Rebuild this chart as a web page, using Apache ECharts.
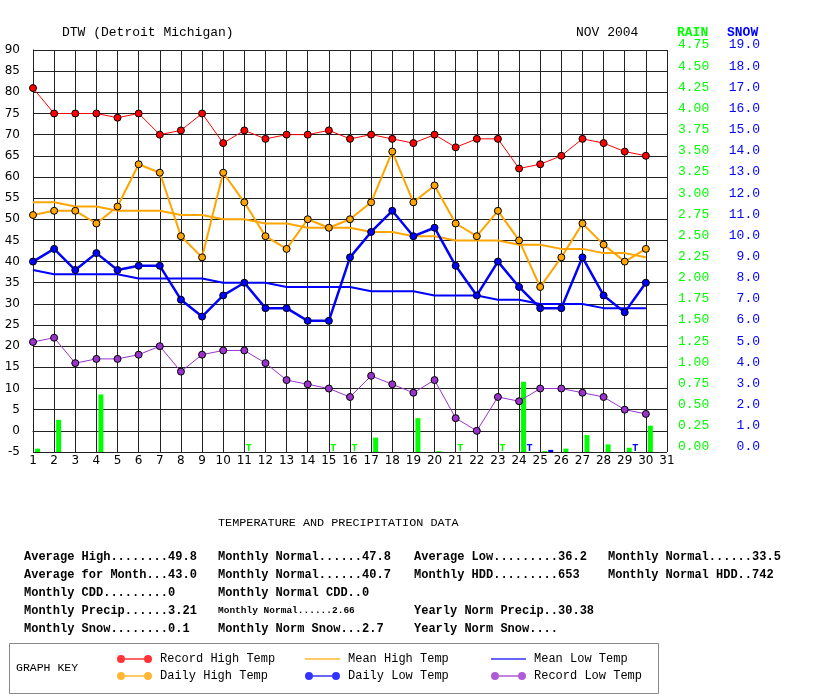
<!DOCTYPE html>
<html>
<head>
<meta charset="utf-8">
<title>DTW Nov 2004</title>
<script src="https://cdn.jsdelivr.net/npm/echarts@6/dist/echarts.min.js"></script>
<style>
  html, body { margin: 0; padding: 0; background: #fff; }
  #chart_container { width: 813px; height: 696px; }
</style>
</head>
<body>
<div id="chart_container"></div>
<script>
"use strict";

// days of the month
const days = [1, 2, 3, 4, 5, 6, 7, 8, 9, 10, 11, 12, 13, 14, 15,
              16, 17, 18, 19, 20, 21, 22, 23, 24, 25, 26, 27, 28, 29, 30];

// temperatures (F)
const recordHigh = [81, 75, 75, 75, 74, 75, 70, 71, 75, 68, 71, 69, 70, 70, 71,
                    69, 70, 69, 68, 70, 67, 69, 69, 62, 63, 65, 69, 68, 66, 65];
const dailyHigh  = [51, 52, 52, 49, 53, 63, 61, 46, 41, 61, 54, 46, 43, 50, 48,
                    50, 54, 66, 54, 58, 49, 46, 52, 45, 34, 41, 49, 44, 40, 43];
const meanHigh   = [54, 54, 53, 53, 52, 52, 52, 51, 51, 50, 50, 49, 49, 48, 48,
                    48, 47, 47, 46, 46, 45, 45, 45, 44, 44, 43, 43, 42, 42, 41];
const dailyLow   = [40, 43, 38, 42, 38, 39, 39, 31, 27, 32, 35, 29, 29, 26, 26,
                    41, 47, 52, 46, 48, 39, 32, 40, 34, 29, 29, 41, 32, 28, 35];
const meanLow    = [38, 37, 37, 37, 37, 36, 36, 36, 36, 35, 35, 35, 34, 34, 34,
                    34, 33, 33, 33, 32, 32, 32, 31, 31, 30, 30, 30, 29, 29, 29];
const recordLow  = [21, 22, 16, 17, 17, 18, 20, 14, 18, 19, 19, 16, 12, 11, 10,
                    8, 13, 11, 9, 12, 3, 0, 8, 7, 10, 10, 9, 8, 5, 4];

// precipitation (inches)
const rain = [0.04, 0.38, 0, 0.68, 0, 0, 0, 0, 0, 0, 0, 0, 0, 0, 0,
              0, 0.17, 0, 0.40, 0.01, 0, 0, 0, 0.83, 0.01, 0.04, 0.20, 0.09, 0.05, 0.31];
const snow = [0, 0, 0, 0, 0, 0, 0, 0, 0, 0, 0, 0, 0, 0, 0,
              0, 0, 0, 0, 0, 0, 0, 0, 0, 0.1, 0, 0, 0, 0, 0];
const rainTraceDays = [11, 15, 16, 21, 23];
const snowTraceDays = [24, 29];

// stats block, one list per row
const statRows = [
  ["Average High........49.8", "Monthly Normal......47.8", "Average Low.........36.2", "Monthly Normal......33.5"],
  ["Average for Month...43.0", "Monthly Normal......40.7", "Monthly HDD.........653", "Monthly Normal HDD..742"],
  ["Monthly CDD.........0", "Monthly Normal CDD..0", "", ""],
  ["Monthly Precip......3.21", "Monthly Normal......2.66", "Yearly Norm Precip..30.38", ""],
  ["Monthly Snow........0.1", "Monthly Norm Snow...2.7", "Yearly Norm Snow....", ""]
];

const MONO = "'Liberation Mono', 'DejaVu Sans Mono', monospace";
const GREEN = '#00ff00';
const BLUE = '#0000ff';

let pair = (arr) => arr.map((v, i) => [days[i], v]);

let dotLine = (name, data, color, width) => ({
  name: name,
  type: 'line',
  data: pair(data),
  symbol: 'circle',
  symbolSize: 7,
  lineStyle: { color: color, width: width },
  itemStyle: { color: color, borderColor: '#000', borderWidth: 1 },
  z: 4
});

let plainLine = (name, data, color, width) => ({
  name: name,
  type: 'line',
  data: pair(data),
  symbol: 'none',
  lineStyle: { color: color, width: width },
  itemStyle: { color: color },
  z: 3
});

// bars are drawn a few px right of the day line, like the original
let barRender = (offset, color) => (params, api) => {
  const top = api.coord([api.value(0), api.value(1)]);
  const base = api.coord([api.value(0), 0]);
  return {
    type: 'rect',
    shape: { x: base[0] + offset, y: top[1], width: 5, height: base[1] - top[1] },
    style: { fill: color }
  };
};

let traceRender = (offset, color) => (params, api) => {
  const base = api.coord([api.value(0), 0]);
  return {
    type: 'text',
    x: base[0] + offset,
    y: base[1] + 1,
    style: { text: 'T', fill: color, font: 'bold 10px ' + MONO, align: 'center', verticalAlign: 'bottom' }
  };
};

// text pieces
let txt = (x, y, text, font, color) => ({
  type: 'text', x: x, y: y,
  style: { text: text, font: font, fill: color || '#000', verticalAlign: 'middle' }
});

let graphics = [
  txt(62, 33, 'DTW (Detroit Michigan)', '13px ' + MONO),
  txt(576, 33, 'NOV 2004', '13px ' + MONO),
  txt(677, 33, 'RAIN', 'bold 13px ' + MONO, GREEN),
  txt(727, 33, 'SNOW', 'bold 13px ' + MONO, BLUE),
  txt(218, 523, 'TEMPERATURE AND PRECIPITATION DATA', '11.8px ' + MONO),
  {
    type: 'rect',
    shape: { x: 9.5, y: 643.5, width: 649, height: 50 },
    style: { fill: '#fff', stroke: '#888', lineWidth: 1 },
    z: -1
  },
  txt(16, 668, 'GRAPH KEY', '11.5px ' + MONO)
];

const colX = [24, 218, 414, 608];
statRows.forEach((row, r) => {
  row.forEach((s, c) => {
    if (!s) return;
    let font = 'bold 12px ' + MONO;
    if (r === 3 && c === 1) font = 'bold 9.5px ' + MONO;
    graphics.push(txt(colX[c], 557 + r * 18, s, font));
  });
});

const dotIcon = 'path://M0,4a4,4 0 1,0 8,0a4,4 0 1,0 -8,0zM27,4a4,4 0 1,0 8,0a4,4 0 1,0 -8,0zM8,3.3h19v1.4h-19z';
const lineIcon = 'path://M0,3.3h35v1.4h-35z';

let keyColumn = (left, items) => ({
  orient: 'vertical',
  left: left,
  top: 653,
  padding: 0,
  itemWidth: 35,
  itemHeight: 8,
  itemGap: 5,
  selectedMode: false,
  itemStyle: { borderWidth: 0, opacity: 0.8 },
  textStyle: { fontFamily: MONO, fontSize: 12, color: '#000', padding: [0, 0, 0, 3] },
  data: items
});

let optEchart = {
  animation: false,
  backgroundColor: '#fff',
  textStyle: { fontFamily: 'DejaVu Sans' },
  grid: { left: 33, right: 146, top: 50, bottom: 244, show: false },
  xAxis: {
    type: 'value',
    min: 1, max: 31, interval: 1,
    axisLine: { show: true, lineStyle: { color: '#222' } },
    axisTick: { show: false },
    axisLabel: { color: '#000', fontSize: 12, margin: 3, fontFamily: 'DejaVu Sans' },
    splitLine: { show: true, lineStyle: { color: '#222', width: 1 } }
  },
  yAxis: [
    {
      type: 'value',
      min: -5, max: 90, interval: 5,
      axisLine: { show: true, lineStyle: { color: '#222' } },
      axisTick: { show: false },
      axisLabel: { color: '#000', fontSize: 12, margin: 13, fontFamily: 'DejaVu Sans' },
      splitLine: { show: true, lineStyle: { color: '#222', width: 1 } }
    },
    {
      type: 'value',
      position: 'right',
      min: 0, max: 4.75, interval: 0.25,
      axisLine: { show: false },
      axisTick: { show: false },
      splitLine: { show: false },
      axisLabel: {
        color: GREEN, fontFamily: MONO, fontSize: 13, margin: 11,
        verticalAlign: 'bottom', lineHeight: 10,
        formatter: v => v.toFixed(2)
      }
    },
    {
      type: 'value',
      position: 'right',
      min: 0, max: 19, interval: 1,
      axisLine: { show: false },
      axisTick: { show: false },
      splitLine: { show: false },
      axisLabel: {
        color: BLUE, fontFamily: MONO, fontSize: 13, margin: 93, align: 'right',
        verticalAlign: 'bottom', lineHeight: 10,
        formatter: v => v.toFixed(1)
      }
    }
  ],
  legend: [
    keyColumn(117, [{ name: 'Record High Temp', icon: dotIcon }, { name: 'Daily High Temp', icon: dotIcon }]),
    keyColumn(305, [{ name: 'Mean High Temp', icon: lineIcon }, { name: 'Daily Low Temp', icon: dotIcon }]),
    keyColumn(491, [{ name: 'Mean Low Temp', icon: lineIcon }, { name: 'Record Low Temp', icon: dotIcon }])
  ],
  graphic: graphics,
  series: [
    {
      name: 'Rain',
      type: 'custom',
      yAxisIndex: 1,
      renderItem: barRender(2, GREEN),
      data: pair(rain).filter(d => d[1] > 0),
      z: 2
    },
    {
      name: 'Snow',
      type: 'custom',
      yAxisIndex: 2,
      renderItem: barRender(8, BLUE),
      data: pair(snow).filter(d => d[1] > 0),
      z: 2
    },
    {
      name: 'Rain trace',
      type: 'custom',
      yAxisIndex: 1,
      renderItem: traceRender(4.5, GREEN),
      data: rainTraceDays.map(d => [d, 0]),
      clip: false,
      z: 2
    },
    {
      name: 'Snow trace',
      type: 'custom',
      yAxisIndex: 2,
      renderItem: traceRender(10.5, BLUE),
      data: snowTraceDays.map(d => [d, 0]),
      clip: false,
      z: 2
    },
    plainLine('Mean High Temp', meanHigh, '#ffa500', 2),
    plainLine('Mean Low Temp', meanLow, '#0000ff', 2),
    dotLine('Record Low Temp', recordLow, '#9933cc', 1),
    dotLine('Daily Low Temp', dailyLow, '#0000ff', 2.5),
    dotLine('Daily High Temp', dailyHigh, '#ffa500', 2),
    dotLine('Record High Temp', recordHigh, '#ff0000', 1)
  ]
};

let myChart;
let pageLoaded = () => {
  let chartDom = document.getElementById('chart_container');
  myChart = echarts.init(chartDom);
  myChart.setOption(optEchart);
};

window.addEventListener('load', pageLoaded, false);
</script>
</body>
</html>
